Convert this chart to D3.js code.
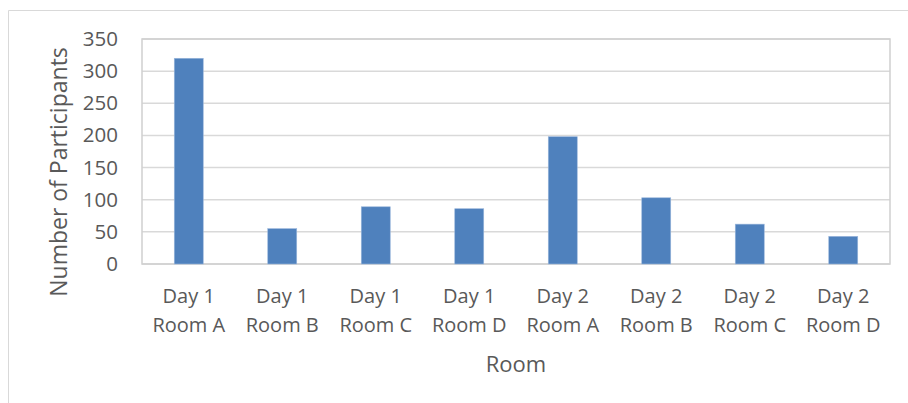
<!DOCTYPE html>
<meta charset="utf-8">
<script src="https://d3js.org/d3.v7.min.js"></script>
<style>
  body { margin: 0; background: #fff; }
  text { font-family: "Open Sans", sans-serif; fill: #595959; }
</style>
<div id="chart"></div>
<script>

// data
var days = ["Day 1", "Day 1", "Day 1", "Day 1", "Day 2", "Day 2", "Day 2", "Day 2"];
var rooms = ["Room A", "Room B", "Room C", "Room D", "Room A", "Room B", "Room C", "Room D"];
var participants = [320, 55, 89, 86, 198, 103, 62, 43];
var yTicks = [0, 50, 100, 150, 200, 250, 300, 350];

var W = 908, H = 403;
var plot = {left: 142, top: 39, right: 890, bottom: 264};

var svg = d3.select("#chart").append("svg")
    .attr("width", W)
    .attr("height", H);

// chart area border (only left and top visible in the picture)
svg.append("path")
    .attr("d", "M8.5," + H + "V10.5H" + W)
    .attr("fill", "none")
    .attr("stroke", "#d9d9d9")
    .attr("stroke-width", 1);

var keys = participants.map(function(d, i) { return i; });

var x = d3.scaleBand()
    .domain(keys)
    .range([plot.left, plot.right])
    .paddingInner(0.69)
    .paddingOuter(0.345);

var y = d3.scaleLinear()
    .domain([0, 350])
    .range([plot.bottom, plot.top]);

// gridlines
svg.append("g")
  .selectAll("line")
  .data(yTicks)
  .enter().append("line")
    .attr("x1", plot.left)
    .attr("x2", plot.right)
    .attr("y1", function(d) { return y(d); })
    .attr("y2", function(d) { return y(d); })
    .attr("stroke", "#d9d9d9")
    .attr("stroke-width", 1.5);

// plot border
svg.append("rect")
    .attr("x", plot.left)
    .attr("y", plot.top)
    .attr("width", plot.right - plot.left)
    .attr("height", plot.bottom - plot.top)
    .attr("fill", "none")
    .attr("stroke", "#cfcfcf")
    .attr("stroke-width", 1.5);

// bars
svg.append("g")
  .selectAll("rect")
  .data(participants)
  .enter().append("rect")
    .attr("x", function(d, i) { return x(i); })
    .attr("width", x.bandwidth())
    .attr("y", function(d) { return y(d); })
    .attr("height", function(d) { return y(0) - y(d); })
    .attr("fill", "#4f81bd")
    .attr("stroke", "#9bb7dc")
    .attr("stroke-width", 0.6);

// y axis
var yAxis = svg.append("g")
    .attr("transform", "translate(" + plot.left + ",0)")
    .call(d3.axisLeft(y).tickValues(yTicks).tickSize(0).tickPadding(24));
yAxis.select(".domain").remove();
yAxis.selectAll("text")
    .attr("font-size", "20.5px")
    .attr("font-family", "Open Sans")
    .attr("fill", "#595959");

// x axis, two line labels
var xAxis = svg.append("g")
    .attr("transform", "translate(0," + plot.bottom + ")")
    .call(d3.axisBottom(x).tickSize(0).tickFormat(""));
xAxis.select(".domain").remove();
xAxis.selectAll(".tick").each(function(i) {
  var t = d3.select(this).append("text")
      .attr("text-anchor", "middle")
      .attr("font-size", "20px")
      .attr("fill", "#595959");
  t.append("tspan").attr("x", 0).attr("y", 39).text(days[i]);
  t.append("tspan").attr("x", 0).attr("y", 68).text(rooms[i]);
});

// axis titles
svg.append("text")
    .attr("text-anchor", "middle")
    .attr("font-size", "22px")
    .attr("x", (plot.left + plot.right) / 2)
    .attr("y", 372)
    .text("Room");

svg.append("text")
    .attr("text-anchor", "middle")
    .attr("font-size", "23px")
    .attr("transform", "translate(67,172) rotate(-90)")
    .text("Number of Participants");

</script>
